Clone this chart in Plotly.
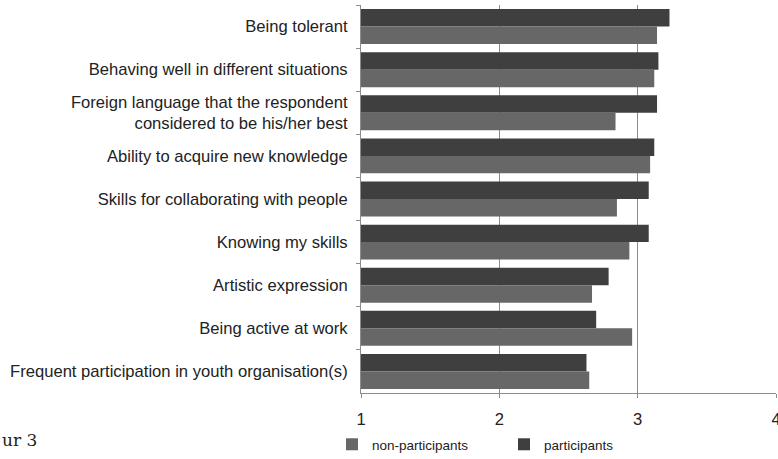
import plotly.graph_objects as go

categories = [
    "Being tolerant",
    "Behaving well in different situations",
    "Foreign language that the respondent<br>considered to be his/her best",
    "Ability to acquire new knowledge",
    "Skills for collaborating with people",
    "Knowing my skills",
    "Artistic expression",
    "Being active at work",
    "Frequent participation in youth organisation(s)",
]
participants = [3.23, 3.15, 3.14, 3.12, 3.08, 3.08, 2.79, 2.70, 2.63]
non_participants = [3.14, 3.12, 2.84, 3.09, 2.85, 2.94, 2.67, 2.96, 2.65]
x_ticks = [1, 2, 3, 4]

W, H = 778, 459
ML, MR, MT, MB = 361, 2, 5, 66
PW, PH = W - ML - MR, H - MT - MB

fig = go.Figure()
fig.add_trace(go.Bar(
    y=categories, x=participants, orientation="h", name="participants",
    marker=dict(color="#3f3f3f", line=dict(width=0)), legendrank=2,
))
fig.add_trace(go.Bar(
    y=categories, x=non_participants, orientation="h", name="non-participants",
    marker=dict(color="#676767", line=dict(width=0)), legendrank=1,
))

fig.update_layout(
    width=W, height=H,
    margin=dict(l=ML, r=MR, t=MT, b=MB, pad=0, autoexpand=False),
    paper_bgcolor="white", plot_bgcolor="white",
    barmode="group", bargap=0.19, bargroupgap=0,
    font=dict(family="Liberation Sans, Arial, sans-serif", color="#222222", size=16.6),
    showlegend=True,
    legend=dict(
        orientation="h", x=(332 - ML) / PW, xanchor="left",
        y=(H - MB - 429) / PH, yanchor="top",
        font=dict(size=13.5, color="#222222"),
        entrywidth=127, itemwidth=30, traceorder="normal",
        bgcolor="rgba(0,0,0,0)",
    ),
    xaxis=dict(
        range=[1, 4], tickvals=x_ticks, ticktext=[str(v) for v in x_ticks],
        showgrid=True, gridcolor="#8c8c8c", gridwidth=1,
        showline=True, linecolor="#8c8c8c", linewidth=1,
        ticks="outside", ticklen=4, tickcolor="#8c8c8c",
        zeroline=False, tickfont=dict(size=16.6), automargin=False,
        ticklabelstandoff=7, ticklabeloverflow="allow",
    ),
    yaxis=dict(
        categoryorder="array", categoryarray=categories, autorange="reversed",
        showline=True, linecolor="#8c8c8c", linewidth=1,
        ticks="outside", ticklen=4, tickcolor="#8c8c8c", tickson="boundaries",
        showgrid=False, tickfont=dict(size=16.6), ticklabelstandoff=9,
        automargin=False,
    ),
)

fig.add_annotation(
    text="ur 3", xref="paper", yref="paper",
    x=(0 - ML) / PW, xanchor="left",
    y=(H - MB - 440) / PH, yanchor="middle",
    showarrow=False, font=dict(family="DejaVu Serif, serif", size=17, color="#222222"),
)

fig.write_html(
    "out.html",
    config={"displayModeBar": False},
    post_script="document.body.style.margin='0';document.body.style.overflow='hidden';",
)
